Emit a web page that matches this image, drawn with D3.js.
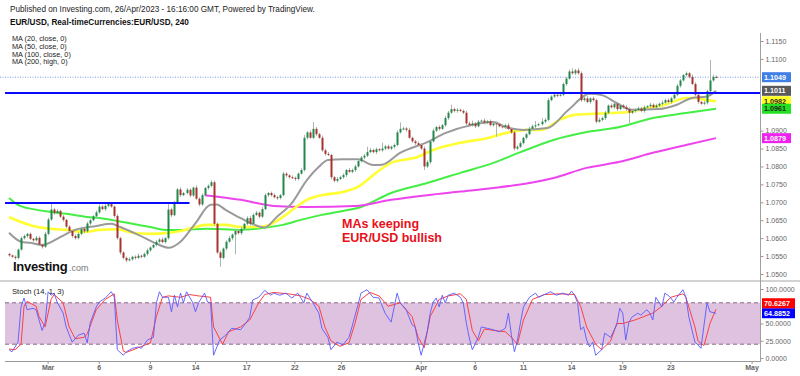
<!DOCTYPE html>
<html>
<head>
<meta charset="utf-8">
<script src="https://cdn.jsdelivr.net/npm/d3@7"></script>
<style>
  body { margin: 0; background: #fff; }
  svg { display: block; font-family: Arial, 'Liberation Sans', sans-serif; }
</style>
</head>
<body>
<svg id="chart" width="800" height="376"></svg>
<script>
// prices are in pips above 1.0000 (552 -> 1.0552), one value per 4H bar
const firstOpen = 556;
const closes = [
  552,548,545,568,600,606,612,598,594,601, 582,576,612,652,680,670,676,660,651,632,
  620,606,600,612,626,619,641,650,661,672, 688,681,690,695,688,662,600,560,545,538,
  541,548,545,551,548,556,566,574,581,590, 596,589,600,680,664,700,736,720,726,735,
  719,741,710,694,720,740,746,756,640,560, 545,571,590,600,610,620,614,626,640,656,
  640,665,671,660,681,720,726,720,714,712, 720,780,775,770,768,765,780,790,880,895,
  880,905,890,880,845,835,832,770,760,765, 770,776,790,785,790,800,815,825,830,840,
  846,840,848,845,850,856,850,855,860,895, 905,906,902,880,870,865,860,850,800,812,
  870,900,910,905,915,935,950,960,955,958, 955,950,920,915,920,912,925,928,922,926,
  915,920,918,912,910,915,905,895,850,855, 865,880,890,905,912,915,918,925,930,985,
  995,1000,998,1000,1030,1045,1065,1060,1068,1060, 985,990,980,990,985,925,930,935,950,970,
  965,975,960,970,965,960,950,955,958,962, 955,965,968,972,965,970,975,978,985,980,
  990,1000,1025,1040,1055,1060,1050,1030,1000,980, 975,978,1010,1040,1050,1049
];
const wickUp = [
  3,2,4,3,5,4,3,4,3,5, 4,3,6,5,18,4,5,3,4,3, 4,3,5,4,6,3,5,4,3,5, 6,4,5,3,4,3,5,4,3,4,
  5,3,4,6,3,4,5,3,4,5, 4,6,3,18,5,4,4,6,3,5, 4,3,6,4,5,3,4,6,5,4, 5,3,4,6,3,5,4,6,3,5,
  6,4,5,3,6,5,3,4,5,4, 3,5,4,3,5,4,3,5,8,4, 6,19,5,4,6,4,5,3,4,6, 4,5,3,6,4,5,3,4,5,15,
  6,4,5,3,16,4,5,3,4,6, 18,5,4,6,3,4,5,4,6,5, 4,6,3,5,4,6,5,12,4,5, 3,4,6,5,8,4,5,3,6,4,
  5,4,6,3,5,4,6,3,5,4, 5,3,4,6,5,12,4,10,5,6, 4,5,3,6,4,5,6,9,4,6, 5,4,6,3,5,4,6,4,5,3,
  6,4,5,3,4,6,5,3,4,5, 4,5,3,6,4,5,3,6,4,5, 4,6,5,4,3,5,4,6,5,4, 3,5,4,57,6,4
];
const wickDn = [
  4,3,5,4,3,4,5,3,4,3, 4,5,3,4,4,5,3,4,5,4, 3,5,4,3,4,5,3,4,3,5, 4,3,5,4,3,5,4,6,4,5,
  3,4,5,3,4,3,5,4,3,4, 5,3,4,4,5,3,4,5,3,4, 5,4,3,5,4,3,5,4,5,4, 25,4,5,3,6,55,4,5,3,4,
  5,4,3,5,4,3,5,4,3,5, 4,3,5,4,3,5,4,3,4,5, 3,4,5,3,4,5,3,6,4,5, 3,4,5,3,4,5,3,4,5,4,
  3,4,5,3,4,5,3,4,5,4, 3,4,5,3,4,5,3,4,10,4, 5,3,4,5,3,4,5,3,4,5, 3,4,5,3,4,5,3,4,5,4,
  3,4,35,3,4,5,3,4,5,4, 3,4,5,3,4,5,3,4,5,4, 3,4,5,3,4,5,3,4,5,4, 5,4,3,5,4,5,3,4,5,4,
  3,4,5,3,4,5,30,4,5,3, 4,5,3,4,5,3,4,5,3,4, 5,3,4,5,3,4,5,3,4,5, 3,4,5,3,4,3
];

// moving averages, [bar, pips]
const ma20 = [[0,615],[4,590],[7,587],[11,581],[17,603],[21,620],[29,634],[34,640],[37,631],[43,609],[50,581],[53,573],[57,590],[62,642],[67,693],[69,694],[72,679],[77,656],[85,630],[89,659],[94,698],[99,762],[103,799],[106,818],[111,820],[116,820],[121,804],[124,805],[130,838],[139,868],[145,893],[154,916],[161,924],[165,910],[171,902],[179,907],[186,958],[193,1003],[197,999],[202,977],[207,958],[216,960],[222,972],[227,991],[232,995],[235,1011]];
const ma50 = [[0,659],[4,645],[8,634],[14,626],[19,623],[25,617],[30,623],[36,625],[41,615],[47,612],[52,614],[57,620],[62,631],[66,637],[72,637],[77,631],[83,631],[86,635],[91,659],[95,684],[99,707],[104,720],[111,729],[116,743],[122,782],[127,810],[136,827],[141,846],[150,866],[159,879],[165,893],[172,902],[177,902],[183,930],[188,944],[195,947],[200,949],[206,952],[212,963],[218,972],[225,991],[228,991],[232,985],[235,982]];
const ma100 = [[0,712],[3,693],[8,681],[14,673],[19,668],[26,659],[30,656],[36,648],[41,640],[47,631],[52,623],[57,623],[66,626],[77,623],[84,628],[91,637],[97,651],[104,665],[111,676],[117,687],[127,726],[139,754],[150,782],[161,810],[170,840],[181,874],[192,896],[203,910],[214,935],[225,949],[235,961]];
const ma200 = [[65,720],[77,707],[88,690],[99,687],[115,690],[127,707],[139,720],[150,730],[161,740],[173,754],[181,768],[192,796],[203,813],[214,838],[225,860],[235,879]];

// stochastic (14, 1, 3), [bar, value]
const stochK = [[0,12],[1,9],[3,23],[4,74],[5,87],[6,70],[8,72],[9,70],[10,55],[11,40],[12,51],[13,96],[14,91],[15,94],[16,81],[18,65],[19,45],[21,23],[23,33],[25,36],[26,22],[27,51],[29,74],[30,81],[32,87],[34,96],[35,88],[36,12],[38,4],[39,9],[41,14],[43,16],[44,14],[46,26],[48,30],[49,80],[50,96],[51,88],[53,88],[54,67],[55,91],[56,74],[57,94],[58,80],[59,96],[61,81],[62,67],[63,80],[65,94],[66,81],[67,80],[68,4],[70,26],[72,33],[74,43],[77,41],[79,52],[80,59],[81,84],[83,88],[85,98],[87,91],[88,94],[90,91],[92,94],[94,87],[96,94],[98,80],[99,94],[101,80],[103,65],[104,43],[106,30],[107,12],[109,23],[111,19],[113,30],[114,45],[116,77],[117,94],[119,99],[121,88],[123,87],[125,65],[127,52],[129,94],[130,80],[132,70],[134,48],[135,45],[136,22],[137,4],[139,38],[140,65],[141,81],[142,87],[143,74],[144,91],[145,80],[146,91],[148,94],[150,88],[151,80],[152,51],[153,29],[154,12],[156,30],[157,45],[159,43],[161,41],[163,38],[165,43],[166,65],[167,33],[168,9],[169,26],[170,51],[171,74],[173,88],[175,94],[176,88],[179,94],[180,96],[182,91],[184,94],[186,91],[187,97],[188,91],[189,80],[190,41],[191,45],[192,26],[193,16],[194,23],[195,4],[197,12],[198,36],[200,30],[202,48],[203,72],[204,65],[205,26],[206,51],[207,59],[209,65],[210,62],[212,70],[213,65],[214,55],[215,88],[217,74],[218,94],[219,91],[220,87],[221,81],[222,88],[224,99],[225,88],[226,59],[228,23],[229,19],[230,14],[232,80],[233,67],[235,64.8852]];
const stochD = [[0,13],[2,12],[4,20],[5,75],[6,82],[9,75],[10,60],[12,45],[14,85],[15,92],[18,80],[20,45],[22,28],[25,30],[26,35],[29,70],[32,85],[35,93],[36,55],[38,10],[39,8],[43,15],[47,22],[49,60],[51,88],[53,90],[57,88],[60,92],[63,90],[67,88],[68,45],[71,20],[73,38],[77,45],[80,55],[83,80],[85,92],[88,95],[93,93],[97,90],[100,85],[103,75],[105,45],[107,25],[110,17],[113,22],[115,50],[117,85],[120,95],[123,90],[126,75],[130,80],[131,75],[134,60],[136,30],[138,15],[140,60],[143,85],[146,90],[150,93],[152,85],[154,40],[156,25],[158,42],[161,40],[165,38],[167,30],[169,20],[171,55],[174,85],[178,92],[183,93],[188,92],[190,75],[192,45],[195,20],[197,12],[200,25],[202,50],[204,50],[208,55],[211,60],[214,65],[217,75],[220,88],[224,93],[225,88],[228,45],[229,25],[231,18],[233,50],[235,70.6267]];

const hLevels = [1005, 698];          // drawn support / resistance lines
const lastPrice = 1049;
const maLast = [1011, 982, 961, 879]; // MA20, MA50, MA100, MA200 last values
const stochLast = [70.6267, 64.8852];
const priceTicks = [1150,1100,1050,1000,950,900,850,800,750,700,650,600,550,500];
const stochTicks = [100, 75, 50, 25, 0];
const dateTicks = [13, 30, 47, 62, 79, 95, 110.5, 137, 155, 171, 187, 204, 220, 247];
const dateLabels = ['Mar','6','9','14','17','22','26','Apr','6','11','14','19','23','May'];
const legendLines = ['MA (20, close, 0)', 'MA (50, close, 0)', 'MA (100, close, 0)', 'MA (200, high, 0)'];

const svg = d3.select('#chart');
const axisX = 760;

const x = d3.scaleLinear().domain([0, 235]).range([9, 716]);
const y = d3.scaleLinear().domain([1150, 500]).range([41, 274]);
const ys = d3.scaleLinear().domain([0, 100]).range([358, 289]);
const fmt = p => (1 + p / 10000).toFixed(4);

// ---- header
svg.append('text').attr('x', 10).attr('y', 12).attr('font-size', 8.2).attr('fill', '#222')
  .text('Published on Investing.com, 26/Apr/2023 - 16:16:00 GMT, Powered by TradingView.');
svg.append('text').attr('x', 10).attr('y', 25).attr('font-size', 8.2).attr('font-weight', 'bold').attr('fill', '#111')
  .text('EUR/USD, Real-timeCurrencies:EUR/USD, 240');
svg.append('g').selectAll('text').data(legendLines).enter().append('text')
  .attr('x', 12).attr('y', (d, i) => 41 + i * 7.8)
  .attr('font-size', 7.3).attr('fill', '#222').text(d => d);

// ---- stochastic pane background
svg.append('rect').attr('x', 5).attr('y', ys(80)).attr('width', axisX - 5).attr('height', ys(20) - ys(80))
  .attr('fill', '#dfc2df');
svg.append('g').selectAll('line').data([80, 20]).enter().append('line')
  .attr('x1', 5).attr('x2', axisX).attr('y1', d => ys(d)).attr('y2', d => ys(d))
  .attr('stroke', '#876a87').attr('stroke-dasharray', '4,3');

// ---- last price dotted line
svg.append('line').attr('x1', 0).attr('x2', axisX).attr('y1', y(lastPrice)).attr('y2', y(lastPrice))
  .attr('stroke', '#7b9be8').attr('stroke-dasharray', '1,1.5');

// ---- moving averages
const maLine = d3.line().x(d => x(d[0])).y(d => y(d[1])).curve(d3.curveMonotoneX);
const maDefs = [
  { data: ma100, color: '#44ee44', w: 2 },
  { data: ma200, color: '#ee44ee', w: 2 },
  { data: ma50, color: '#ffff33', w: 2.6 },
  { data: ma20, color: '#9a9a9a', w: 2 }
];
svg.append('g').selectAll('path').data(maDefs).enter().append('path')
  .attr('d', d => maLine(d.data)).attr('fill', 'none')
  .attr('stroke', d => d.color).attr('stroke-width', d => d.w);

// ---- candles
const bars = closes.map((c, i) => {
  const o = i === 0 ? firstOpen : closes[i - 1];
  return { i, o, c, h: Math.max(o, c) + wickUp[i], l: Math.min(o, c) - wickDn[i] };
});
const cg = svg.append('g');
cg.selectAll('line').data(bars).enter().append('line')
  .attr('x1', d => Math.round(x(d.i)) + 0.5).attr('x2', d => Math.round(x(d.i)) + 0.5)
  .attr('y1', d => y(d.h)).attr('y2', d => y(d.l))
  .attr('stroke', '#a9b8ad').attr('stroke-width', 1);
cg.selectAll('rect').data(bars).enter().append('rect')
  .attr('x', d => Math.round(x(d.i)) - 0.5).attr('width', 2)
  .attr('y', d => y(Math.max(d.o, d.c)))
  .attr('height', d => Math.max(1, Math.abs(y(d.o) - y(d.c))))
  .attr('fill', d => d.c >= d.o ? '#22874a' : '#a8322c');

// ---- horizontal levels
svg.append('line').attr('x1', 5).attr('x2', axisX).attr('y1', y(hLevels[0])).attr('y2', y(hLevels[0]))
  .attr('stroke', '#0a0aff').attr('stroke-width', 2);
svg.append('line').attr('x1', 5).attr('x2', x(60)).attr('y1', y(hLevels[1])).attr('y2', y(hLevels[1]))
  .attr('stroke', '#0a0aff').attr('stroke-width', 2);

// ---- annotation
svg.append('text').attr('x', 342).attr('y', 228).attr('font-size', 12.5).attr('font-weight', 'bold')
  .attr('fill', '#e8101a').text('MAs keeping');
svg.append('text').attr('x', 342).attr('y', 242).attr('font-size', 12.5).attr('font-weight', 'bold')
  .attr('fill', '#e8101a').text('EUR/USD bullish');

// ---- logo
const logo = svg.append('text').attr('x', 13).attr('y', 271).attr('font-size', 13).attr('font-weight', 'bold')
  .attr('letter-spacing', -0.3).attr('fill', '#111').text('Investing');
const logoW = logo.node().getComputedTextLength();
svg.append('text').attr('x', 13 + logoW + 1.5).attr('y', 271).attr('font-size', 9).attr('fill', '#777').text('.com');

// ---- stochastic lines
const stLine = d3.line().x(d => x(d[0])).y(d => ys(d[1]));
svg.append('path').attr('d', stLine(stochD)).attr('fill', 'none').attr('stroke', '#ff4040').attr('stroke-width', 1);
svg.append('path').attr('d', stLine(stochK)).attr('fill', 'none').attr('stroke', '#5a5aff').attr('stroke-width', 1).attr('opacity', 0.9);
svg.append('text').attr('x', 12).attr('y', 294).attr('font-size', 7.6).attr('fill', '#222').text('Stoch (14, 1, 3)');

// ---- pane frame
svg.append('line').attr('x1', 0).attr('x2', 800).attr('y1', 281).attr('y2', 281).attr('stroke', '#c4c4c4').attr('stroke-width', 1.5);
svg.append('line').attr('x1', axisX + 0.5).attr('x2', axisX + 0.5).attr('y1', 33).attr('y2', 362).attr('stroke', '#a0a0a0');

// ---- value tags (price pane and stoch pane), nudged apart when they would touch
const priceTags = [
  { v: y(lastPrice), t: fmt(lastPrice), bg: '#3f7fe6', fg: '#fff' },
  { v: y(maLast[0]), t: fmt(maLast[0]), bg: '#5a5a5a', fg: '#fff' },
  { v: y(maLast[1]), t: fmt(maLast[1]), bg: '#ffff22', fg: '#222' },
  { v: y(maLast[2]), t: fmt(maLast[2]), bg: '#22e022', fg: '#222' },
  { v: y(maLast[3]), t: fmt(maLast[3]), bg: '#ee22ee', fg: '#fff' }
];
const stochTags = [
  { v: ys(stochLast[1]), t: stochLast[1].toFixed(4), bg: '#0000ff', fg: '#fff' },
  { v: ys(stochLast[0]), t: stochLast[0].toFixed(4), bg: '#ff0000', fg: '#fff' }
];
for (let k = 1; k < stochTags.length; k++) {
  stochTags[k].v = Math.min(stochTags[k].v, stochTags[k - 1].v - 10);
}
const tags = priceTags.concat(stochTags);

// ---- axes, hiding labels that sit under a tag
const free = (v, list) => list.every(t => Math.abs(t.v - v) > 7);
const pAxis = d3.axisRight(y).tickValues(priceTicks.filter(p => free(y(p), priceTags))).tickSize(3).tickFormat(fmt);
const pg = svg.append('g').attr('transform', `translate(${axisX + 0.5},0)`).call(pAxis);
pg.select('.domain').remove();
pg.selectAll('line').attr('stroke', '#999');
pg.selectAll('text').attr('font-size', 7).attr('fill', '#666').attr('x', 5).style('font-family', 'Arial, Liberation Sans');

const sAxis = d3.axisRight(ys).tickValues(stochTicks.filter(s => free(ys(s), stochTags))).tickSize(3).tickFormat(d => d.toFixed(4));
const sg = svg.append('g').attr('transform', `translate(${axisX + 0.5},0)`).call(sAxis);
sg.select('.domain').remove();
sg.selectAll('line').attr('stroke', '#999');
sg.selectAll('text').attr('font-size', 7).attr('fill', '#666').attr('x', 5).style('font-family', 'Arial, Liberation Sans');

const tg = svg.append('g').selectAll('g').data(tags).enter().append('g');
tg.append('rect').attr('x', axisX + 2).attr('y', d => d.v - 5).attr('width', d => d.t.length > 6 ? 33 : 29).attr('height', 10)
  .attr('fill', d => d.bg);
tg.append('text').attr('x', axisX + 4).attr('y', d => d.v + 2.6).attr('font-size', 7.2).attr('font-weight', 'bold')
  .attr('fill', d => d.fg).text(d => d.t);

// ---- date axis
svg.append('line').attr('x1', 5).attr('x2', axisX).attr('y1', 361.5).attr('y2', 361.5).attr('stroke', '#999');
const dg = svg.append('g').selectAll('g').data(dateTicks).enter().append('g');
dg.append('line').attr('x1', d => x(d)).attr('x2', d => x(d)).attr('y1', 361.5).attr('y2', 364).attr('stroke', '#999');
dg.append('text').attr('x', d => x(d)).attr('y', 370).attr('text-anchor', 'middle')
  .attr('font-size', 7).attr('font-weight', 'bold').attr('fill', '#666').text((d, i) => dateLabels[i]);
</script>
</body>
</html>
